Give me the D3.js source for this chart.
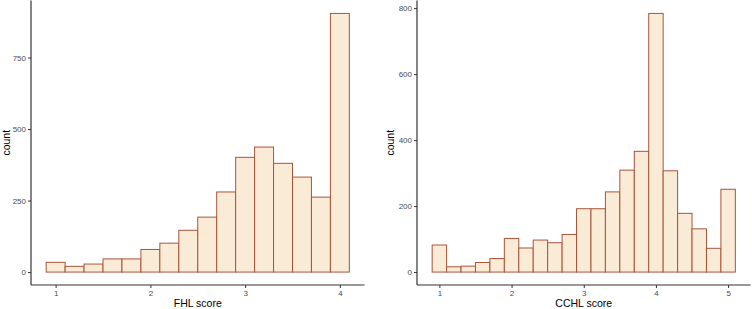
<!DOCTYPE html>
<html>
<head>
<meta charset="utf-8">
<script src="https://cdn.jsdelivr.net/npm/d3@7"></script>
<style>
  body { margin: 0; background: #fff; }
  svg { display: block; font-family: "Liberation Sans", Arial, sans-serif; }
</style>
</head>
<body>
<svg id="chart" width="752" height="309"></svg>
<script>
// Histogram data (bin centers, width 0.2)
const fhlBins = [1.0, 1.2, 1.4, 1.6, 1.8, 2.0, 2.2, 2.4, 2.6, 2.8, 3.0, 3.2, 3.4, 3.6, 3.8, 4.0];
const fhlCounts = [34, 20, 28, 46, 46, 79, 101, 146, 192, 280, 401, 437, 380, 332, 262, 904];
const fhlXTicks = [1, 2, 3, 4];
const fhlYTicks = [0, 250, 500, 750];

const cchlBins = [1.0, 1.2, 1.4, 1.6, 1.8, 2.0, 2.2, 2.4, 2.6, 2.8, 3.0, 3.2, 3.4, 3.6, 3.8, 4.0, 4.2, 4.4, 4.6, 4.8, 5.0];
const cchlCounts = [82, 16, 18, 29, 41, 102, 73, 97, 89, 114, 192, 192, 243, 309, 366, 784, 307, 178, 131, 72, 251];
const cchlXTicks = [1, 2, 3, 4, 5];
const cchlYTicks = [0, 200, 400, 600, 800];

const binWidth = 0.2;
const svg = d3.select("#chart");

// Dessine un panneau d'histogramme
function drawPanel(opts) {
    const { left, right, top, bottom, bins, counts, xTicks, yTicks, xLabel, yLabelX } = opts;
    const g = svg.append("g");

    // expansion de 5% comme ggplot
    const x0 = bins[0] - binWidth / 2;
    const x1 = bins[bins.length - 1] + binWidth / 2;
    const xPad = (x1 - x0) * 0.05;
    const x = d3.scaleLinear().domain([x0 - xPad, x1 + xPad]).range([left, right]);

    const yMax = d3.max(counts);
    const y = d3.scaleLinear().domain([-yMax * 0.05, yMax * 1.05]).range([bottom, top]);

    // barres
    g.append("g")
        .selectAll("rect")
        .data(bins.map((b, i) => ({ b, c: counts[i] })))
        .enter().append("rect")
        .attr("x", d => x(d.b - binWidth / 2))
        .attr("width", d => x(d.b + binWidth / 2) - x(d.b - binWidth / 2))
        .attr("y", d => y(d.c))
        .attr("height", d => y(0) - y(d.c))
        .attr("fill", "#FAEBD7")
        .attr("stroke", "#A8553A")
        .attr("stroke-width", 1);

    // axes
    const xAxis = g.append("g")
        .attr("transform", `translate(0,${bottom})`)
        .call(d3.axisBottom(x).tickValues(xTicks).tickSize(3).tickPadding(2).tickFormat(d3.format("d")));
    const yAxis = g.append("g")
        .attr("transform", `translate(${left},0)`)
        .call(d3.axisLeft(y).tickValues(yTicks).tickSize(3).tickPadding(2).tickFormat(d3.format("d")));

    [xAxis, yAxis].forEach(a => {
        a.select(".domain").remove();
        a.selectAll(".tick line").attr("stroke", "#333");
        a.selectAll(".tick text").attr("fill", "#4d4d4d").attr("font-size", "8px")
            .attr("font-family", "Liberation Sans, Arial, sans-serif");
    });
    // lignes d'axe complètes
    g.append("line").attr("x1", left).attr("x2", right).attr("y1", bottom).attr("y2", bottom)
        .attr("stroke", "#333").attr("stroke-width", 1.2);
    g.append("line").attr("x1", left).attr("x2", left).attr("y1", top).attr("y2", bottom)
        .attr("stroke", "#333").attr("stroke-width", 1.2);

    // titres
    g.append("text")
        .attr("x", (left + right) / 2)
        .attr("y", 307)
        .attr("text-anchor", "middle")
        .attr("font-size", "10.5px")
        .attr("fill", "#000")
        .text(xLabel);
    g.append("text")
        .attr("transform", `translate(${yLabelX},${(top + bottom) / 2}) rotate(-90)`)
        .attr("text-anchor", "middle")
        .attr("font-size", "10.5px")
        .attr("fill", "#000")
        .text("count");
}

drawPanel({
    left: 31, right: 364.5, top: 0.5, bottom: 285,
    bins: fhlBins, counts: fhlCounts, xTicks: fhlXTicks, yTicks: fhlYTicks,
    xLabel: "FHL score", yLabelX: 10
});

drawPanel({
    left: 417, right: 750.5, top: 0.5, bottom: 285,
    bins: cchlBins, counts: cchlCounts, xTicks: cchlXTicks, yTicks: cchlYTicks,
    xLabel: "CCHL score", yLabelX: 394
});
</script>
</body>
</html>
